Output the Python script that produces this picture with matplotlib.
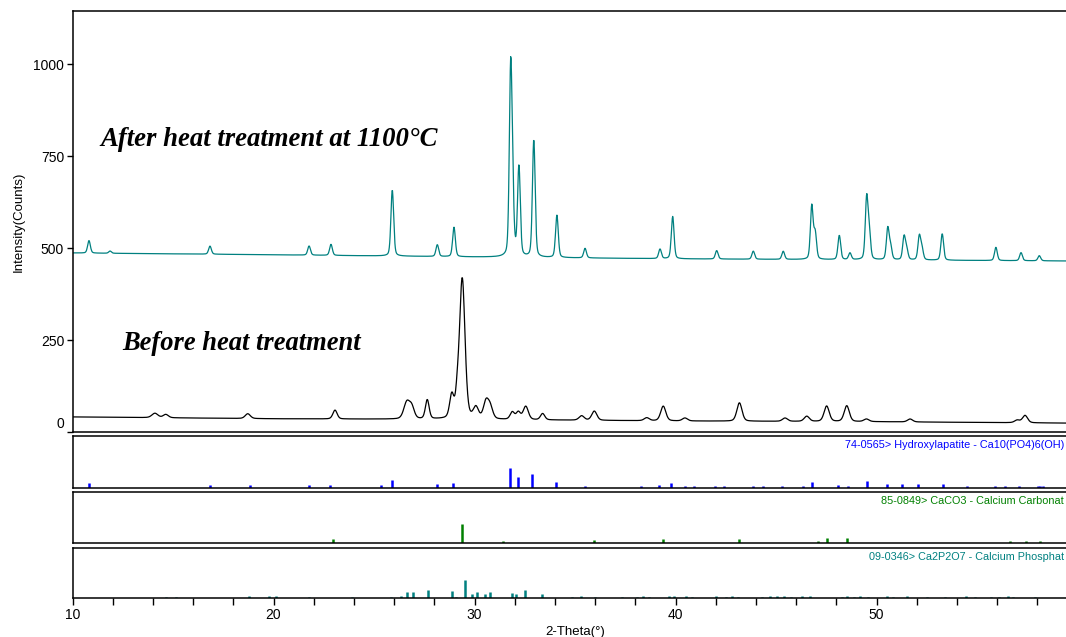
import numpy as np
import matplotlib
matplotlib.use("Agg")
import matplotlib.pyplot as plt
from matplotlib.ticker import MultipleLocator, FixedLocator
import matplotlib.transforms as mtransforms

plt.rcParams['font.family'] = ['Liberation Sans', 'DejaVu Sans']

# scan range (2-theta, deg)
two_theta = np.arange(10.0, 60.0, 0.02)

# after heat treatment at 1100C: background and peaks
after_bg_x = [10, 20, 30, 40, 50, 60]
after_bg_y = [487, 482, 476, 471, 468, 465]
after_pos = [10.82, 11.87, 16.84, 21.77, 22.86, 25.91, 28.15, 28.98, 31.80, 31.90,
             32.21, 32.95, 34.10, 35.50, 39.23, 39.86, 42.05, 43.87, 45.36, 46.78,
             46.95, 48.15, 48.68, 49.51, 49.64, 50.56, 50.70, 51.37, 51.50, 52.13,
             52.26, 53.27, 55.94, 57.19, 58.10]
after_height = [34, 6, 22, 25, 30, 180, 32, 80, 500, 120,
                245, 320, 115, 26, 26, 115, 23, 22, 22, 145,
                70, 66, 18, 165, 70, 85, 35, 62, 28, 64,
                30, 72, 36, 22, 14]
after_fwhm = 0.16

# before heat treatment
before_bg_x = [10, 20, 30, 40, 50, 60]
before_bg_y = [41, 36, 34, 30, 28, 24]
before_pos = [14.10, 14.64, 18.72, 23.06, 26.63, 26.88, 27.65, 28.87, 29.14, 29.39,
              30.07, 30.57, 30.78, 31.88, 32.18, 32.55, 33.39, 35.33, 35.96, 38.57,
              39.39, 40.47, 43.18, 45.45, 46.53, 47.52, 48.52, 49.50, 51.67, 57.00,
              57.39]
before_height = [12, 9, 13, 24, 45, 30, 52, 62, 45, 382,
                 30, 45, 32, 20, 20, 36, 17, 12, 25, 8,
                 40, 8, 50, 9, 14, 42, 43, 7, 8, 7,
                 20]
before_fwhm = [0.35, 0.3, 0.3, 0.25, 0.35, 0.3, 0.22, 0.25, 0.2, 0.32,
               0.3, 0.3, 0.3, 0.25, 0.25, 0.3, 0.25, 0.3, 0.3, 0.3,
               0.3, 0.3, 0.3, 0.3, 0.3, 0.3, 0.3, 0.3, 0.3, 0.3,
               0.3]

# reference patterns (2-theta, relative intensity)
ha_pos = [10.81, 16.84, 18.83, 21.78, 22.81, 25.35, 25.88, 28.12, 28.95, 31.77,
          32.18, 32.88, 34.05, 35.48, 38.30, 39.20, 39.80, 40.45, 40.90, 41.97,
          42.40, 43.87, 44.37, 45.28, 46.36, 46.77, 48.10, 48.60, 49.51, 50.50,
          51.25, 52.08, 53.29, 54.49, 55.90, 56.40, 57.10, 58.05, 58.15, 58.30]
ha_int = [25, 12, 12, 12, 12, 12, 38, 17, 25, 100,
          56, 68, 28, 10, 10, 13, 26, 8, 8, 10,
          10, 10, 10, 10, 10, 30, 13, 10, 35, 17,
          17, 17, 17, 10, 10, 10, 10, 10, 10, 10]
cc_pos = [22.95, 29.36, 31.40, 35.97, 39.40, 43.17, 47.10, 47.52, 48.52, 56.64,
          57.44, 58.13]
cc_int = [17, 100, 9, 16, 18, 17, 9, 23, 23, 8, 9, 8]
cp_pos = [14.65, 15.13, 18.78, 19.78, 20.12, 21.78, 23.89, 25.83, 26.36, 26.66,
          26.96, 27.71, 28.87, 29.07, 29.53, 29.89, 30.11, 30.52, 30.77, 31.85,
          32.05, 32.51, 33.37, 34.87, 35.30, 36.00, 37.34, 38.10, 38.40, 38.66,
          39.70, 39.95, 40.50, 40.80, 42.00, 42.50, 42.80, 43.10, 44.30, 44.70,
          45.06, 45.40, 45.75, 46.30, 46.70, 48.30, 48.55, 48.90, 49.20, 49.60,
          50.50, 50.80, 51.50, 52.50, 53.40, 54.45, 54.90, 55.70, 56.10, 56.56,
          56.80, 57.90]
cp_int = [9, 9, 14, 12, 12, 9, 9, 9, 14, 35,
          35, 47, 40, 9, 100, 21, 32, 21, 32, 26,
          21, 44, 21, 9, 13, 9, 9, 9, 12, 9,
          12, 15, 12, 9, 12, 9, 12, 9, 9, 12,
          12, 15, 9, 12, 12, 9, 12, 9, 12, 9,
          12, 9, 12, 9, 9, 12, 9, 9, 9, 12,
          9, 9]

# card labels as far as they show before the right edge
ref_labels = ["74-0565> Hydroxylapatite - Ca10(PO4)6(OH)",
              "85-0849> CaCO3 - Calcium Carbonat",
              "09-0346> Ca2P2O7 - Calcium Phosphat"]
ref_colors = ["#0000ff", "#008000", "#008080"]


def pattern(x, bg_x, bg_y, pos, height, fwhm):
    y = np.interp(x, bg_x, bg_y)
    fwhm = np.broadcast_to(fwhm, len(pos))
    for p, h, w in zip(pos, height, fwhm):
        g = np.exp(-4 * np.log(2) * ((x - p) / w) ** 2)
        l = 1.0 / (1 + 4 * ((x - p) / w) ** 2)
        y = y + h * (0.7 * g + 0.3 * l)
    return y


after = pattern(two_theta, after_bg_x, after_bg_y, after_pos, after_height, after_fwhm)
before = pattern(two_theta, before_bg_x, before_bg_y, before_pos, before_height, before_fwhm)

fig = plt.figure(figsize=(10.66, 6.37), dpi=100)
left, width = 72.5 / 1066, 50 * 20.1 / 1066

ax = fig.add_axes([left, 205 / 637, width, 421 / 637])
ax.plot(two_theta, after, color="#008080", lw=0.9)
ax.plot(two_theta, before, color="black", lw=0.9)
ax.set_xlim(10, 60)
ax.set_ylim(0, 1145)
ax.set_yticks([0, 250, 500, 750, 1000])
ax.tick_params(axis='y', direction='out', length=4, width=1, labelsize=10, pad=2)
ax.tick_params(axis='x', bottom=False, labelbottom=False)
ax.set_ylabel("Intensity(Counts)", fontsize=9.5, labelpad=6)
for s in ax.spines.values():
    s.set_linewidth(1.1)
# the zero label sits a little above the frame corner
zero = ax.get_yticklabels()[0]
zero.set_transform(zero.get_transform() + mtransforms.ScaledTranslation(0, 9 / 100, fig.dpi_scale_trans))

fig.text(100 / 1066, 1 - 140 / 637, "After heat treatment at 1100\u00b0C", fontsize=19.3,
         family="Liberation Serif", weight="bold", style="italic", va="center")
fig.text(122 / 1066, 1 - 344 / 637, "Before heat treatment", fontsize=19.1,
         family="Liberation Serif", weight="bold", style="italic", va="center")

panels = [(487.5, 51.5), (542.7, 50.7), (598.3, 50.0)]
refs = [(ha_pos, ha_int), (cc_pos, cc_int), (cp_pos, cp_int)]
for i, ((bot, h), (pos, inten)) in enumerate(zip(panels, refs)):
    pax = fig.add_axes([left, (637 - bot) / 637, width, h / 637])
    pax.vlines(pos, 0, inten, color=ref_colors[i], lw=1.8)
    pax.set_xlim(10, 60)
    pax.set_ylim(0, 268)
    pax.set_yticks([])
    for s in pax.spines.values():
        s.set_linewidth(1.1)
    fig.text(1064 / 1066, 1 - (bot - h * 0.82) / 637, ref_labels[i],
             color=ref_colors[i], fontsize=7.8, va="center", ha="right")
    if i < 2:
        pax.tick_params(axis='x', bottom=False, labelbottom=False)
    else:
        pax.xaxis.set_major_locator(FixedLocator([10, 20, 30, 40, 50]))
        pax.xaxis.set_minor_locator(MultipleLocator(2))
        pax.tick_params(axis='x', which='both', direction='out', length=5, width=1,
                        labelsize=10, pad=2)
        pax.set_xlabel("2-Theta(\u00b0)", fontsize=9.5, labelpad=3)

fig.savefig("out.png", dpi=100)
